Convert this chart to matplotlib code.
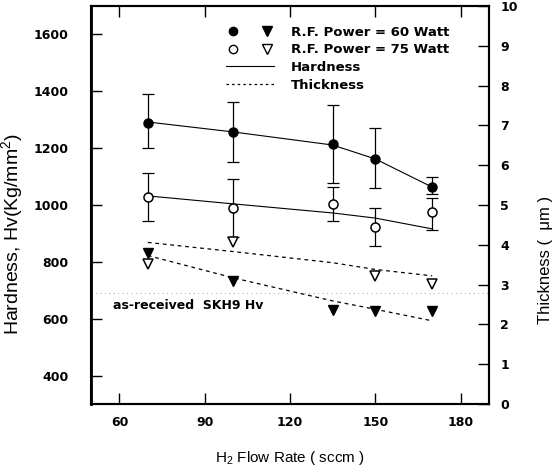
import numpy as np
import matplotlib.pyplot as plt
from matplotlib.lines import Line2D
from matplotlib.legend_handler import HandlerTuple

plt.rcParams['font.family'] = ['Liberation Sans', 'DejaVu Sans']
plt.rcParams['mathtext.default'] = 'regular'

# data
flow = [70, 100, 135, 150, 170]

# hardness, 60 W (filled circles) and 75 W (open circles)
hv60 = [1290, 1257, 1213, 1162, 1065]
hv60_lo = [1201, 1151, 1077, 1060, 1039]
hv60_hi = [1391, 1362, 1352, 1271, 1099]
hv75 = [1028, 990, 1004, 923, 975]
hv75_lo = [944, 888, 944, 856, 912]
hv75_hi = [1113, 1092, 1063, 990, 1025]

# hardness fit lines
hv60_fit = [1292, 1257, 1211, 1162, 1063]
hv75_fit = [1032, 1004, 972, 954, 916]

# thickness, 60 W (filled triangles) and 75 W (open triangles)
t60 = [3.80, 3.10, 2.37, 2.34, 2.34]
flow75t = [70, 100, 150, 170]
t75 = [3.53, 4.08, 3.22, 3.02]

# thickness fit lines
t60_fit = [3.73, 3.17, 2.59, 2.38, 2.09]
t75_fit = [4.06, 3.83, 3.55, 3.38, 3.22]

skh9_hv = 690

bold = {'family': 'DejaVu Sans', 'weight': 'bold', 'size': 9}
bold_leg = {'family': 'DejaVu Sans', 'weight': 'bold', 'size': 9.5}

fig = plt.figure(figsize=(5.57, 4.74), dpi=100)
ax = fig.add_axes([0.1634, 0.1477, 0.7146, 0.8396])
ax2 = ax.twinx()

# hardness
err60 = [np.array(hv60) - np.array(hv60_lo), np.array(hv60_hi) - np.array(hv60)]
err75 = [np.array(hv75) - np.array(hv75_lo), np.array(hv75_hi) - np.array(hv75)]
ax.errorbar(flow, hv60, yerr=err60, fmt='none', ecolor='k', elinewidth=0.9,
            capsize=4.5, capthick=0.9, zorder=3)
ax.errorbar(flow, hv75, yerr=err75, fmt='none', ecolor='k', elinewidth=0.9,
            capsize=4.5, capthick=0.9, zorder=3)
ax.plot(flow, hv60_fit, 'k-', lw=0.8, zorder=2)
ax.plot(flow, hv75_fit, 'k-', lw=0.8, zorder=2)
ax.plot(flow, hv60, 'o', color='k', ms=6.5, zorder=4)
ax.plot(flow, hv75, 'o', mfc='white', mec='k', mew=1.1, ms=6.5, zorder=4)

# as-received level
ax.axhline(skh9_hv, color='0.7', lw=0.8, ls=(0, (1, 3)), zorder=1)
ax.text(57.7, 645, 'as-received  SKH9 Hv', va='center', fontdict=bold)

# thickness
ax2.plot(flow, t60_fit, 'k--', lw=0.9, dashes=(3, 3))
ax2.plot(flow, t75_fit, 'k--', lw=0.9, dashes=(3, 3))
ax2.plot(flow, t60, 'v', color='k', ms=7)
ax2.plot(flow75t, t75, 'v', mfc='white', mec='k', mew=1.1, ms=7)

# axes
ax.set_xlim(50, 190)
ax.set_ylim(300, 1700)
ax2.set_ylim(0, 10)
ax.set_xticks([60, 90, 120, 150, 180])
ax.set_yticks([400, 600, 800, 1000, 1200, 1400, 1600])
ax2.set_yticks(range(0, 11))

ax.tick_params(axis='x', direction='in', length=8, width=1, top=True, pad=9)
ax.tick_params(axis='y', direction='in', length=8, width=1, right=False, pad=16)
ax2.tick_params(axis='y', direction='in', length=8, width=1, pad=8)
for lab in ax.get_xticklabels() + ax.get_yticklabels() + ax2.get_yticklabels():
    lab.set_fontproperties(bold)
for a in (ax, ax2):
    for s in a.spines.values():
        s.set_linewidth(1.5)
ax.spines['left'].set_linewidth(2)

ax.set_xlabel('H$_2$ Flow Rate ( sccm )', fontsize=11, labelpad=14)
ax.set_ylabel('Hardness, Hv(Kg/mm$^2$)', fontsize=14)
ax.yaxis.set_label_coords(-0.165, 0.427)
ax2.set_ylabel('Thickness (  \u03bcm )', fontsize=12)
ax2.yaxis.set_label_coords(1.123, 0.362)

# legend
h60 = (Line2D([], [], ls='none', marker='o', color='k', ms=6),
       Line2D([], [], ls='none', marker='v', color='k', ms=6.5))
h75 = (Line2D([], [], ls='none', marker='o', mfc='white', mec='k', ms=6),
       Line2D([], [], ls='none', marker='v', mfc='white', mec='k', ms=6.5))
hh = Line2D([], [], color='k', lw=0.8)
ht = Line2D([], [], color='k', lw=0.9, ls='--', dashes=(2, 2.5))
leg = ax.legend([h60, h75, hh, ht],
                ['R.F. Power = 60 Watt', 'R.F. Power = 75 Watt', 'Hardness', 'Thickness'],
                handler_map={tuple: HandlerTuple(ndivide=None, pad=1.6)},
                loc='upper left', bbox_to_anchor=(0.31, 0.98), frameon=False,
                handlelength=3.6, handletextpad=1.3, labelspacing=0.35,
                prop=bold_leg)

fig.savefig('out.png', dpi=100)
